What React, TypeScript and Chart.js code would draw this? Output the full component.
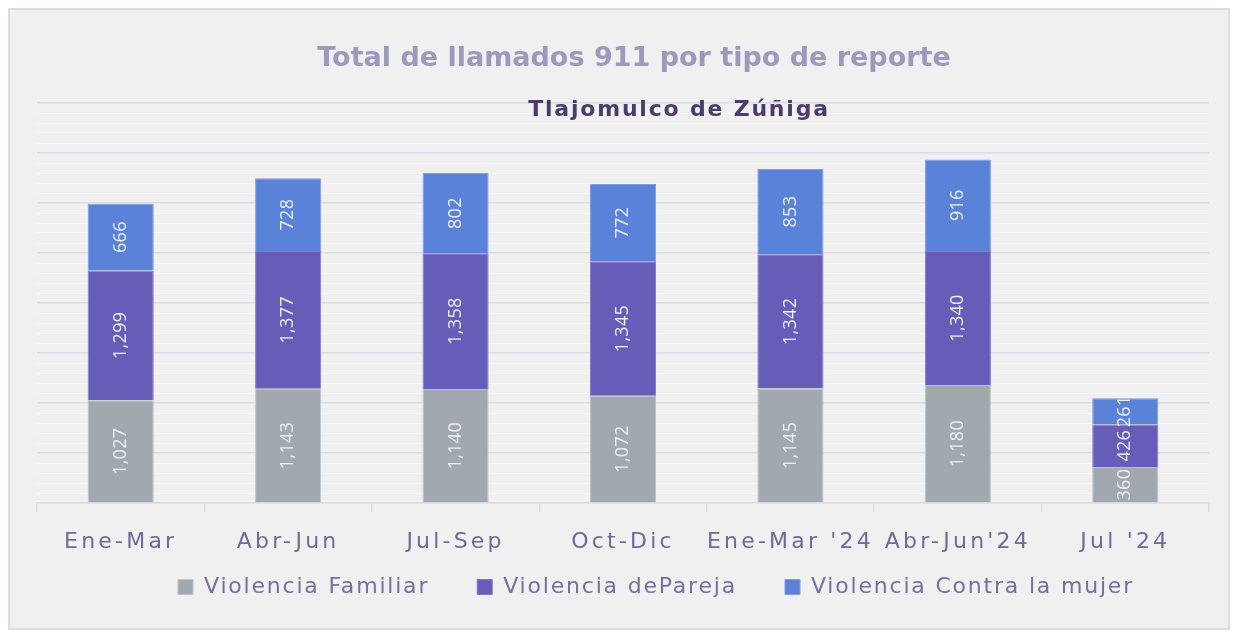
import React, { useEffect, useRef } from "react";
import { Chart, registerables } from "chart.js";

Chart.register(...registerables);

const categories = ["Ene-Mar", "Abr-Jun", "Jul-Sep", "Oct-Dic", "Ene-Mar '24", "Abr-Jun'24", "Jul '24"];
const violenciaFamiliar = [1027, 1143, 1140, 1072, 1145, 1180, 360];
const violenciaPareja = [1299, 1377, 1358, 1345, 1342, 1340, 426];
const violenciaMujer = [666, 728, 802, 772, 853, 916, 261];
const seriesNames = ["Violencia Familiar", "Violencia dePareja", "Violencia Contra la mujer"];
const titleText = "Total de llamados 911 por tipo de reporte";
const subtitleText = "Tlajomulco de Zúñiga";

const FONT = '"DejaVu Sans", "Open Sans", sans-serif';
const LABEL_FONT = '"Open Sans", "DejaVu Sans", sans-serif';
const MAJOR = "#dcdbe5";
const MINOR = "#f7f7f9";
const LEGEND_SPACING = "1.8px";
const TICK_SPACING = "3.2px";

const labelPlugin = {
  id: "segmentLabels",
  afterDatasetsDraw(chart: any) {
    const ctx = chart.ctx;
    const a = chart.chartArea;
    ctx.save();
    ctx.letterSpacing = "0.3px";
    ctx.beginPath();
    ctx.rect(a.left, a.top, a.right - a.left, a.bottom - a.top);
    ctx.clip();
    chart.data.datasets.forEach((ds: any, i: number) => {
      const meta = chart.getDatasetMeta(i);
      meta.data.forEach((bar: any, j: number) => {
        const v = ds.data[j];
        const { x, y, base } = bar.getProps(["x", "y", "base"], true);
        const cy = (y + base) / 2;
        ctx.save();
        ctx.translate(x, cy);
        ctx.rotate(-Math.PI / 2);
        ctx.fillStyle = "#eceef5";
        ctx.font = `18px ${LABEL_FONT}`;
        ctx.textAlign = "center";
        ctx.textBaseline = "middle";
        ctx.fillText(Number(v).toLocaleString("en-US"), 0, 0);
        ctx.restore();
      });
    });
    ctx.restore();
  },
};

const titlePlugin = {
  id: "titles",
  beforeUpdate(chart: any) {
    chart.ctx.letterSpacing = LEGEND_SPACING;
  },
  afterLayout(chart: any) {
    const lg = chart.legend;
    if (lg) {
      lg.left += 33;
      lg.right += 33;
      lg.top -= 31;
      lg.bottom -= 31;
    }
  },
  beforeDraw(chart: any) {
    chart.ctx.letterSpacing = LEGEND_SPACING;
    const sx = chart.scales.x;
    if (sx && !sx.__patched) {
      const orig = sx.drawLabels.bind(sx);
      sx.drawLabels = (area: any) => {
        const c = sx.ctx;
        c.save();
        c.letterSpacing = TICK_SPACING;
        orig(area);
        c.restore();
      };
      sx.__patched = true;
    }
  },
  afterDraw(chart: any) {
    const ctx = chart.ctx;
    ctx.save();
    ctx.textAlign = "center";
    ctx.textBaseline = "middle";
    ctx.fillStyle = "#9d99bc";
    ctx.font = `bold 27px ${FONT}`;
    ctx.letterSpacing = "0px";
    ctx.fillText(titleText, 624, 49);
    ctx.fillStyle = "#4d3b6c";
    ctx.font = `bold 22px ${FONT}`;
    ctx.letterSpacing = "1.8px";
    ctx.fillText(subtitleText, 669, 100);
    ctx.restore();
  },
};

export default function App() {
  const ref = useRef<HTMLCanvasElement | null>(null);

  useEffect(() => {
    if (!ref.current) return;
    const chart = new Chart(ref.current, {
      type: "bar",
      data: {
        labels: categories,
        datasets: [
          {
            label: seriesNames[0],
            data: violenciaFamiliar,
            backgroundColor: "#a2a9ae",
            borderColor: "#bcc2c6",
            borderWidth: 1,
            categoryPercentage: 1,
            barPercentage: 0.395,
          },
          {
            label: seriesNames[1],
            data: violenciaPareja,
            backgroundColor: "#675cb8",
            borderColor: "#8078c6",
            borderWidth: 1,
            categoryPercentage: 1,
            barPercentage: 0.395,
          },
          {
            label: seriesNames[2],
            data: violenciaMujer,
            backgroundColor: "#5a82d9",
            borderColor: "#7f9de2",
            borderWidth: 1,
            categoryPercentage: 1,
            barPercentage: 0.395,
          },
        ],
      },
      options: {
        animation: false,
        responsive: false,
        maintainAspectRatio: false,
        layout: { padding: { left: 27, right: 19, top: 93, bottom: -11 } },
        plugins: {
          title: { display: false },
          tooltip: { enabled: false },
          legend: {
            position: "bottom",
            labels: {
              boxWidth: 15,
              boxHeight: 15,
              padding: 48,
              color: "#75709d",
              font: { family: FONT, size: 22 },
            },
          },
        },
        scales: {
          x: {
            stacked: true,
            grid: { offset: true, drawOnChartArea: false, tickLength: 9, color: MAJOR, lineWidth: 1.5 },
            border: { color: MAJOR, width: 1.5 },
            ticks: { color: "#6f6a99", font: { family: FONT, size: 22 }, padding: 17 },
            afterFit(scale: any) {
              scale.height = 56;
            },
          },
          y: {
            stacked: true,
            min: 0,
            max: 4000,
            ticks: { stepSize: 100, display: false },
            grid: {
              drawTicks: false,
              color: (c: any) => (c.tick && c.tick.value % 500 === 0 ? MAJOR : MINOR),
              lineWidth: (c: any) => (c.tick && c.tick.value % 500 === 0 ? 1.5 : 1),
            },
            border: { display: false },
            afterFit(scale: any) {
              scale.width = 0;
            },
          },
        },
      },
      plugins: [labelPlugin, titlePlugin],
    });
    return () => chart.destroy();
  }, []);

  return (
    <div
      style={{
        width: 1222,
        height: 622,
        boxSizing: "border-box",
        border: "2px solid #dcdce4",
        background: "#f0f0f0",
        position: "relative",
      }}
    >
      <canvas ref={ref} width={1218} height={618} style={{ display: "block" }} />
    </div>
  );
}
